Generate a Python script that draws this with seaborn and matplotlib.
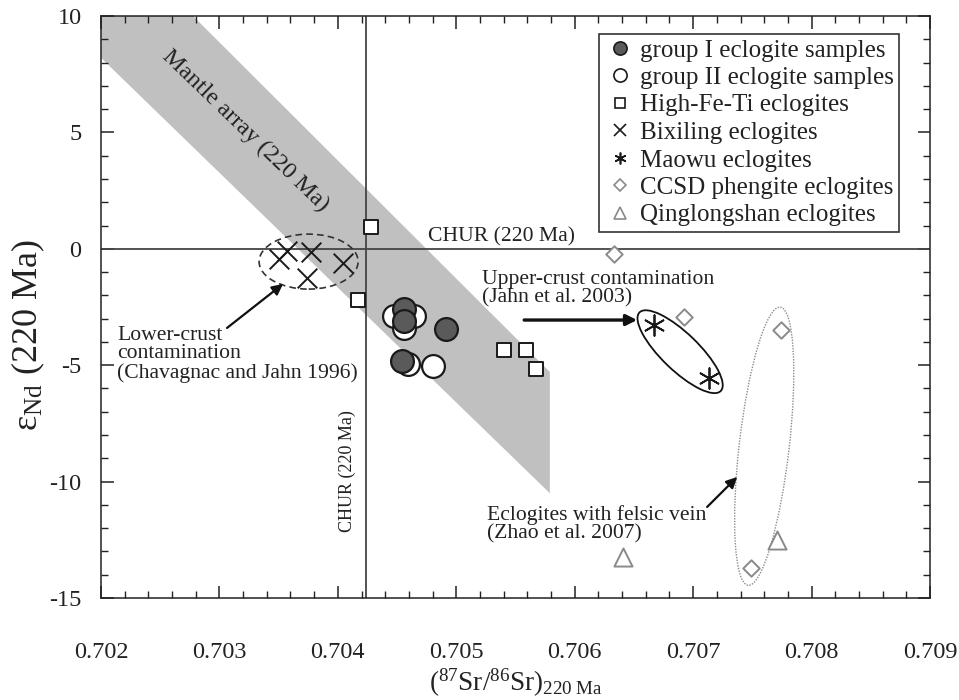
import numpy as np
import pandas as pd
import matplotlib
matplotlib.use("Agg")
import matplotlib.pyplot as plt
import seaborn as sns
from matplotlib.lines import Line2D
from matplotlib.patches import Ellipse
from matplotlib.transforms import ScaledTranslation
from matplotlib.ticker import MultipleLocator, FormatStrFormatter, FuncFormatter

# ---------------- data ----------------
g1_sr = [0.70456, 0.70456, 0.70491, 0.70454]
g1_nd = [-2.59, -3.10, -3.44, -4.82]
g2_sr = [0.70447, 0.70464, 0.70456, 0.70459, 0.70480]
g2_nd = [-2.89, -2.89, -3.40, -4.94, -5.03]
hft_sr = [0.70428, 0.70417, 0.70540, 0.70559, 0.70567]
hft_nd = [0.94, -2.18, -4.33, -4.33, -5.15]
bx_sr = [0.70357, 0.70377, 0.70350, 0.70404, 0.70374]
bx_nd = [-0.09, -0.14, -0.44, -0.61, -1.25]
mw_sr = [0.70667, 0.70713]
mw_nd = [-3.27, -5.55]
ccsd_sr = [0.70633, 0.70692, 0.70774, 0.70749]
ccsd_nd = [-0.22, -2.93, -3.47, -13.71]
qls_sr = [0.70641, 0.70771]
qls_nd = [-13.24, -12.52]

labels = ["group I eclogite samples", "group II eclogite samples",
          "High-Fe-Ti eclogites", "Bixiling eclogites", "Maowu eclogites",
          "CCSD phengite eclogites", "Qinglongshan eclogites"]

chur_sr = 0.70424
chur_nd = 0.0

# mantle array band corners (Sr, Nd)
band_sr = [0.7015, 0.70579, 0.70579, 0.7015]
band_nd = [16.48, -5.29, -10.5, 10.67]

xticks = [0.702, 0.703, 0.704, 0.705, 0.706, 0.707, 0.708, 0.709]
yticks = [-15, -10, -5, 0, 5, 10]

# ---------------- style ----------------
sns.set_theme(style="ticks")
plt.rcParams["font.family"] = ["Liberation Serif", "DejaVu Serif"]
plt.rcParams["mathtext.fontset"] = "custom"
plt.rcParams["mathtext.rm"] = "Liberation Serif"
plt.rcParams["mathtext.it"] = "Liberation Serif:italic"
plt.rcParams["axes.linewidth"] = 1.1

INK = "#222222"

fig = plt.figure(figsize=(9.59, 7.0), dpi=100)
ax = fig.add_axes([101 / 959, 1 - 598 / 700, 829 / 959, 582 / 700])

# band
ax.fill(band_sr, band_nd, color="#c0c0c0", lw=0, zorder=0)
# CHUR lines
ax.axvline(chur_sr, color="#444444", lw=1.3, zorder=1)
ax.axhline(chur_nd, color="#444444", lw=1.3, zorder=1)

# ---------------- points ----------------
sns.scatterplot(x=g2_sr, y=g2_nd, marker="o", s=270, color="white",
                edgecolor="#1a1a1a", linewidth=1.6, ax=ax, zorder=4)
sns.scatterplot(x=g1_sr, y=g1_nd, marker="o", s=270, color="#5a5a5a",
                edgecolor="#1a1a1a", linewidth=1.6, ax=ax, zorder=5)
sns.scatterplot(x=hft_sr, y=hft_nd, marker="s", s=95, color="white",
                edgecolor="#1a1a1a", linewidth=1.4, ax=ax, zorder=4)
sns.scatterplot(x=bx_sr, y=bx_nd, marker="x", s=200, color="#1a1a1a",
                linewidth=1.4, ax=ax, zorder=4)
sns.scatterplot(x=mw_sr, y=mw_nd, marker=(6, 2, 0), s=220, color="#1a1a1a",
                linewidth=1.3, ax=ax, zorder=4)
sns.scatterplot(x=ccsd_sr, y=ccsd_nd, marker="D", s=70, color="white",
                edgecolor="#8a8a8a", linewidth=1.4, ax=ax, zorder=4)
sns.scatterplot(x=qls_sr, y=qls_nd, marker="^", s=170, color="white",
                edgecolor="#8a8a8a", linewidth=1.4, ax=ax, zorder=4)

# ---------------- ellipses (size in pixels, centre in data) ----------------
def ell(cx, cy, w_px, h_px, ang, **kw):
    tr = fig.dpi_scale_trans + ScaledTranslation(cx, cy, ax.transData)
    e = Ellipse((0, 0), w_px / 100, h_px / 100, angle=ang, transform=tr,
                fill=False, **kw)
    ax.add_patch(e)

ell(0.703753, -0.55, 99, 55, 0, ls=(0, (4, 2.5)), lw=1.2, ec="#333333", zorder=3)
ell(0.706890, -4.42, 113, 37, -44, ls="-", lw=1.3, ec="#111111", zorder=3)
ell(0.707600, -8.48, 280, 50, 83.4, ls=(0, (1, 1)), lw=1.0, ec="#8c8c8c", zorder=3)

# ---------------- annotations ----------------
afs = 15.6
ax.text(0.703216, 5.06, "Mantle array (220 Ma)", rotation=-44,
        rotation_mode="anchor", ha="center", va="center", fontsize=17.5,
        color=INK)
ax.text(0.704762, 0.51, "CHUR (220 Ma)", ha="left", va="center",
        fontsize=afs, color=INK)
ax.text(0.704080, -9.55, "CHUR (220 Ma)", rotation=90, ha="center",
        va="center", fontsize=13, color=INK)
ax.text(0.705218, -1.73, "Upper-crust contamination\n(Jahn et al. 2003)",
        ha="left", va="center", fontsize=afs, linespacing=0.95, color=INK)
ax.text(0.702135, -4.53, "Lower-crust\ncontamination\n(Chavagnac and Jahn 1996)",
        ha="left", va="center", fontsize=afs, linespacing=0.97, color=INK)
ax.text(0.705260, -11.82, "Eclogites with felsic vein\n(Zhao et al. 2007)",
        ha="left", va="center", fontsize=afs, linespacing=0.95, color=INK)

ap = dict(arrowstyle="-|>", lw=1.6, color="#111111", mutation_scale=16,
          shrinkA=0, shrinkB=0)
ax.annotate("", xy=(0.703537, -1.51), xytext=(0.703064, -3.40), arrowprops=ap)
ax.annotate("", xy=(0.706527, -3.06), xytext=(0.705573, -3.06),
            arrowprops=dict(ap, lw=2.4))
ax.annotate("", xy=(0.707372, -9.80), xytext=(0.707118, -11.09), arrowprops=ap)

# ---------------- axes ----------------
ax.set_xlim(0.702, 0.709)
ax.set_ylim(-15, 10)
ax.set_xticks(xticks)
ax.set_yticks(yticks)
ax.xaxis.set_major_formatter(FormatStrFormatter("%.3f"))
ax.yaxis.set_major_formatter(FuncFormatter(lambda v, p: ("-" if v < 0 else "") + f"{abs(int(round(v)))}"))
ax.xaxis.set_minor_locator(MultipleLocator(0.0002))
ax.yaxis.set_minor_locator(MultipleLocator(1))
ax.tick_params(which="both", direction="in", top=True, right=True,
               colors=INK, labelcolor=INK)
ax.tick_params(which="major", length=9, width=1.1, labelsize=17.5)
ax.tick_params(which="minor", length=5, width=1.0)
ax.tick_params(axis="x", which="major", pad=32)
ax.tick_params(axis="y", which="major", pad=14)
for s in ax.spines.values():
    s.set_color(INK)

ax.set_xlabel(r"($^{87}$Sr/$^{86}$Sr)$_{\mathrm{220\ Ma}}$", fontsize=19.5,
              color=INK)
ax.xaxis.set_label_coords(0.5, (598 - 667) / 582)
ax.set_ylabel("ε$_{\\mathrm{Nd}}$ (220 Ma)", fontsize=26, color=INK)
ax.yaxis.set_label_coords((47 - 101) / 829, (598 - 335) / 582)

# ---------------- legend ----------------
handles = [
    Line2D([], [], ls="", marker="o", ms=9.5, mfc="#5a5a5a", mec="#1a1a1a", mew=1.2),
    Line2D([], [], ls="", marker="o", ms=9.5, mfc="white", mec="#1a1a1a", mew=1.2),
    Line2D([], [], ls="", marker="s", ms=7.5, mfc="white", mec="#1a1a1a", mew=1.2),
    Line2D([], [], ls="", marker="x", ms=8, mec="#1a1a1a", mew=1.2),
    Line2D([], [], ls="", marker=(6, 2, 0), ms=8.5, mec="#1a1a1a", mew=1.2),
    Line2D([], [], ls="", marker="D", ms=6, mfc="white", mec="#8a8a8a", mew=1.2),
    Line2D([], [], ls="", marker="^", ms=8.5, mfc="white", mec="#8a8a8a", mew=1.2),
]
leg = ax.legend(handles, labels, loc="upper right",
                bbox_to_anchor=((899 - 101) / 829, 1 - (34 - 16) / 582),
                borderaxespad=0, fontsize=18, frameon=True, fancybox=False,
                labelspacing=0.2, handlelength=1.3, handletextpad=0.15,
                borderpad=0.2)
for t in leg.get_texts():
    t.set_color(INK)
leg.get_frame().set_edgecolor("#333333")
leg.get_frame().set_linewidth(1.2)
leg.get_frame().set_alpha(1)
leg.set_zorder(10)

fig.savefig("out.png", dpi=100)
